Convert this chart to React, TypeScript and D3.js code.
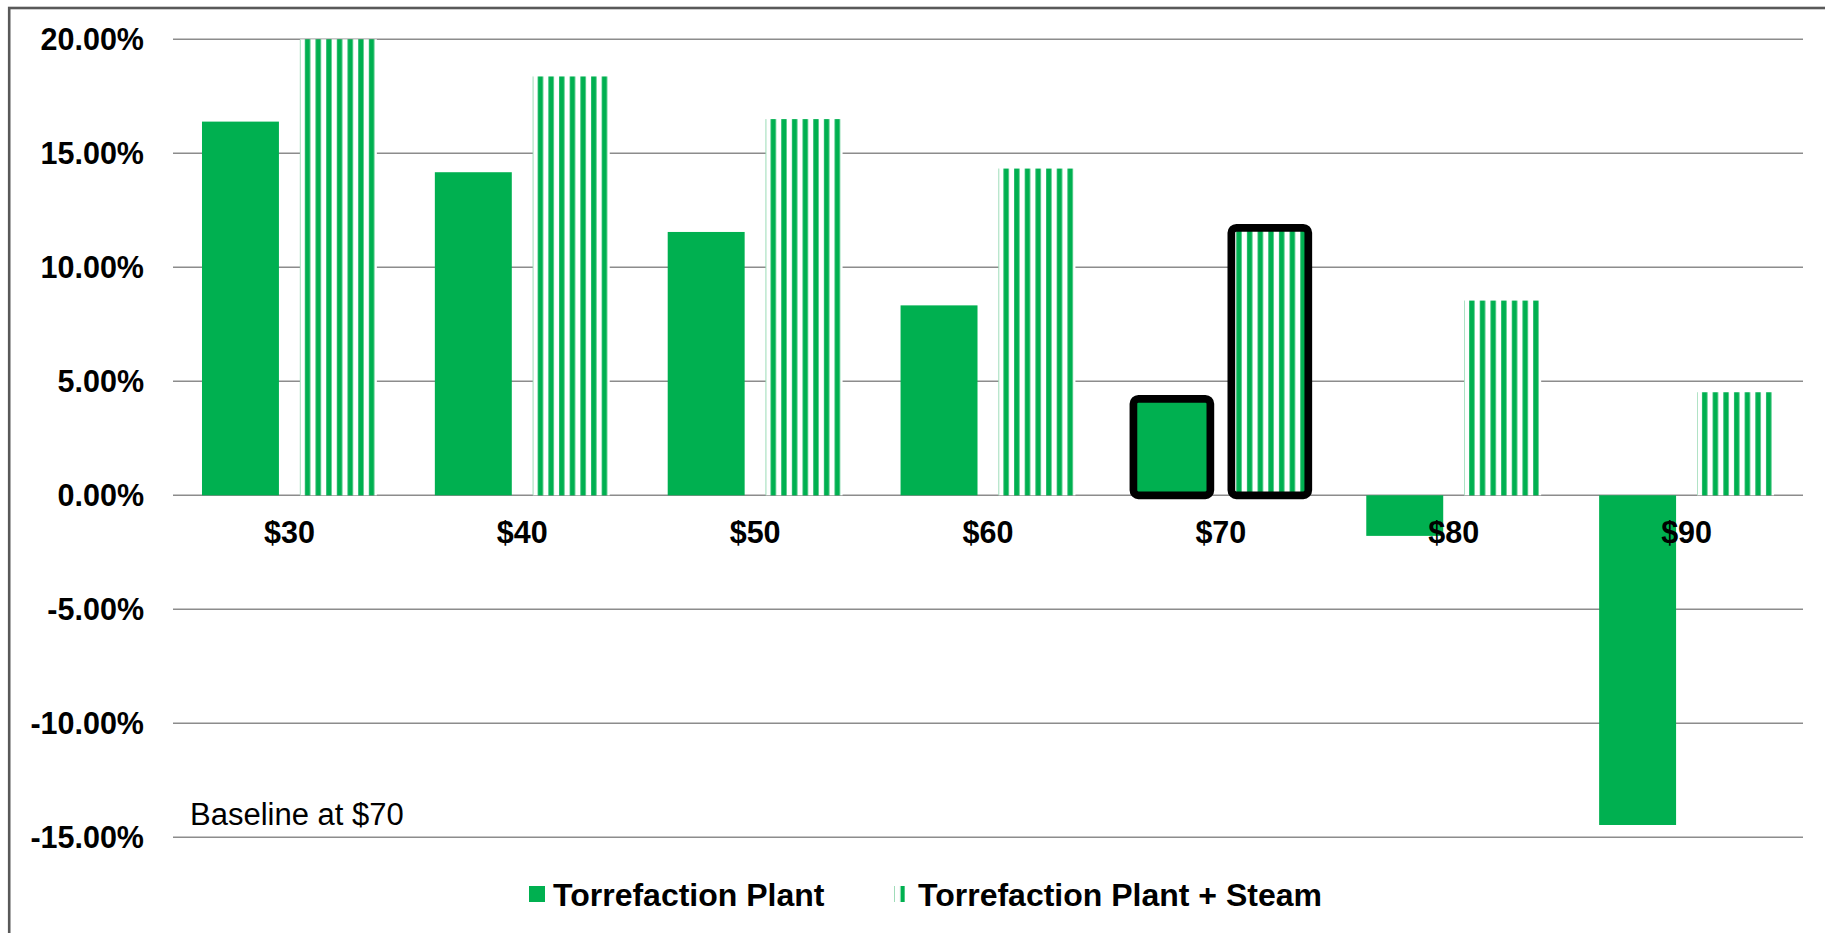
import React from "react";
import * as d3 from "d3";

const categories = ["$30", "$40", "$50", "$60", "$70", "$80", "$90"];
const torrefactionPlant = [16.39, 14.17, 11.55, 8.33, 4.23, -1.78, -14.46];
const torrefactionSteam = [20.0, 18.37, 16.5, 14.33, 11.73, 8.54, 4.52];
const yTicks = [-15, -10, -5, 0, 5, 10, 15, 20];
const seriesNames = ["Torrefaction Plant", "Torrefaction Plant + Steam"];
const highlightCategory = "$70";
const annotationText = "Baseline at $70";

const GREEN = "#00B050";
const FONT = "'Liberation Sans', Arial, sans-serif";

export default function App() {
  const W = 1825;
  const H = 933;
  const left = 173;
  const right = 1803;
  const top = 39.3;
  const bottom = 837.3;

  const x = d3.scaleBand<string>().domain(categories).range([left, right]).padding(0);
  const bw = x.bandwidth();
  const x1 = d3
    .scaleBand<string>()
    .domain(["plant", "steam"])
    .range([0, bw])
    .paddingInner(0.2143)
    .paddingOuter(0.296);
  const y = d3.scaleLinear().domain([-15, 20]).range([bottom, top]);
  const barW = x1.bandwidth();
  const y0 = y(0);

  const stripePeriod = 10.67;
  const stripeW = 5.3;

  const plantBars = categories.map((c, i) => {
    const v = torrefactionPlant[i];
    const bx = (x(c) ?? 0) + (x1("plant") ?? 0);
    return { c, bx, by: Math.min(y(v), y0), bh: Math.abs(y(v) - y0) };
  });
  const steamBars = categories.map((c, i) => {
    const v = torrefactionSteam[i];
    const bx = (x(c) ?? 0) + (x1("steam") ?? 0);
    return { c, bx, by: Math.min(y(v), y0), bh: Math.abs(y(v) - y0) };
  });

  const legendY = 886;
  const legendSq = 16;
  const legendItems = [
    { name: seriesNames[0], x: 529, kind: "plant" },
    { name: seriesNames[1], x: 894, kind: "steam" },
  ];

  return (
    <svg
      width={W}
      height={H}
      style={{ position: "absolute", left: 0, top: 0, background: "#fff" }}
    >
      <defs>
        {steamBars.map((b, i) => (
          <pattern
            key={i}
            id={`stripe-${i}`}
            patternUnits="userSpaceOnUse"
            x={b.bx}
            y={0}
            width={stripePeriod}
            height={20}
          >
            <rect x={0} y={0} width={stripePeriod} height={20} fill="#fff" />
            <rect x={5} y={0} width={stripeW} height={20} fill={GREEN} />
          </pattern>
        ))}
        <pattern
          id="stripe-legend"
          patternUnits="userSpaceOnUse"
          x={894}
          y={0}
          width={stripePeriod}
          height={20}
        >
          <rect x={0} y={0} width={stripePeriod} height={20} fill="#fff" />
          <rect x={6.5} y={0} width={stripeW + 1} height={20} fill={GREEN} />
        </pattern>
      </defs>

      <rect x={0} y={0} width={W} height={H} fill="#fff" />
      <rect
        x={9.2}
        y={8}
        width={W + 20}
        height={H + 20}
        fill="none"
        stroke="#595959"
        strokeWidth={2.6}
      />

      {yTicks.map((t) => (
        <line
          key={t}
          x1={left}
          x2={right}
          y1={y(t)}
          y2={y(t)}
          stroke="#8c8c8c"
          strokeWidth={1.5}
        />
      ))}

      {yTicks.map((t) => (
        <text
          key={`l${t}`}
          x={144}
          y={y(t) + 10.7}
          textAnchor="end"
          fontFamily={FONT}
          fontWeight="bold"
          fontSize={30.5}
          fill="#000"
        >
          {t.toFixed(2) + "%"}
        </text>
      ))}

      {plantBars.map((b, i) => (
        <rect key={`p${i}`} x={b.bx} y={b.by} width={barW} height={b.bh} fill={GREEN} />
      ))}
      {steamBars.map((b, i) => (
        <g key={`s${i}`}>
          <rect x={b.bx} y={b.by} width={barW} height={b.bh} fill={`url(#stripe-${i})`} />
          <rect x={b.bx} y={b.by} width={0.8} height={b.bh} fill="#9fdcb9" />
        </g>
      ))}

      {[...plantBars, ...steamBars]
        .filter((b) => b.c === highlightCategory)
        .map((b, i) => (
          <rect
            key={`h${i}`}
            x={b.bx}
            y={b.by}
            width={barW}
            height={b.bh}
            rx={5}
            fill="none"
            stroke="#000"
            strokeWidth={7.7}
          />
        ))}

      {categories.map((c) => (
        <text
          key={`x${c}`}
          x={(x(c) ?? 0) + bw / 2}
          y={543.3}
          textAnchor="middle"
          fontFamily={FONT}
          fontWeight="bold"
          fontSize={30.5}
          fill="#000"
        >
          {c}
        </text>
      ))}

      <text x={190} y={825} fontFamily={FONT} fontSize={31} fill="#000">
        {annotationText}
      </text>

      {legendItems.map((it) => (
        <g key={it.name}>
          <rect
            x={it.x}
            y={legendY}
            width={legendSq}
            height={legendSq}
            fill={it.kind === "plant" ? GREEN : "url(#stripe-legend)"}
          />
          {it.kind === "steam" && (
            <rect x={it.x} y={legendY} width={1} height={legendSq} fill="#9fdcb9" />
          )}
          <text
            x={it.x + 24}
            y={905.6}
            fontFamily={FONT}
            fontWeight="bold"
            fontSize={32}
            fill="#000"
          >
            {it.name}
          </text>
        </g>
      ))}
    </svg>
  );
}
